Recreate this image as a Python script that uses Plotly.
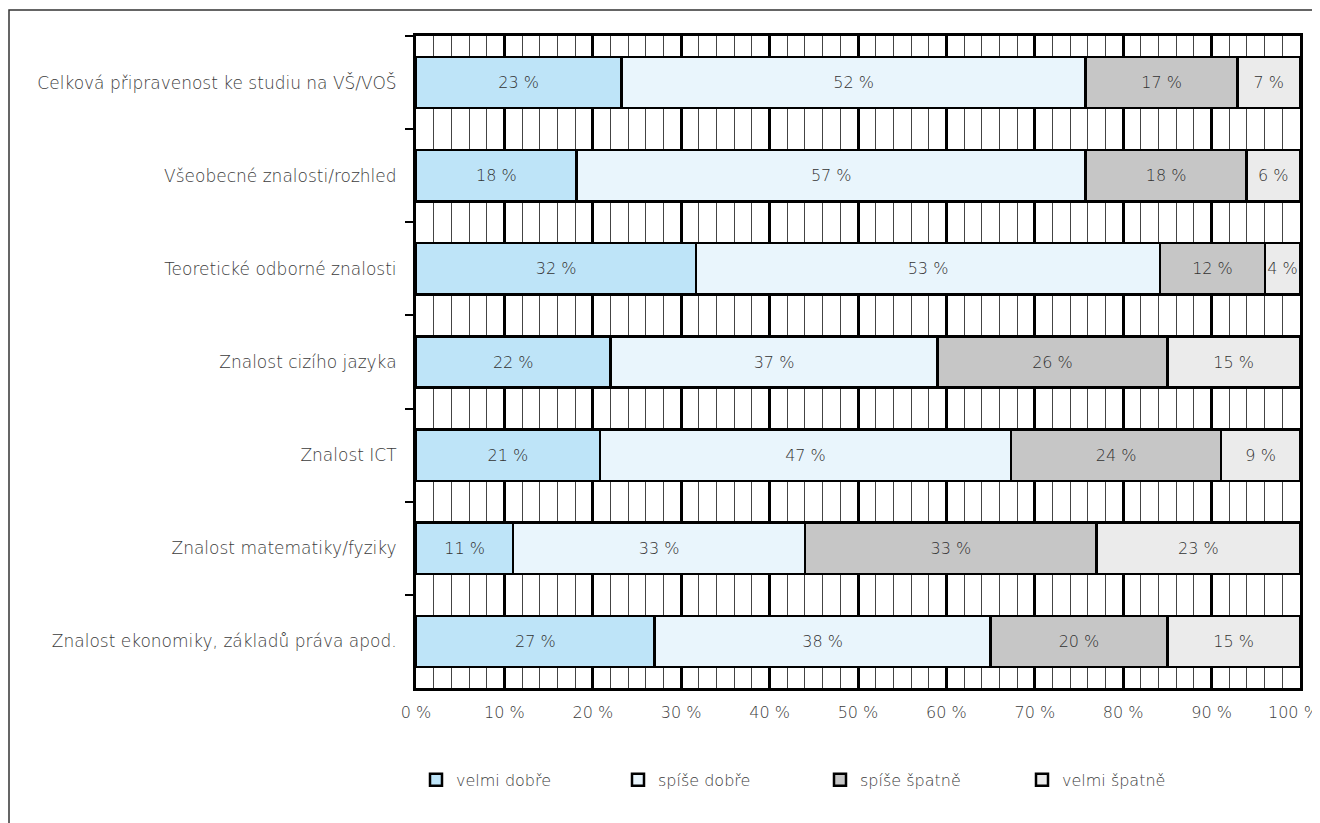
import plotly.graph_objects as go

categories = [
    "Celková připravenost ke studiu na VŠ/VOŠ",
    "Všeobecné znalosti/rozhled",
    "Teoretické odborné znalosti",
    "Znalost cizího jazyka",
    "Znalost ICT",
    "Znalost matematiky/fyziky",
    "Znalost ekonomiky, základů práva apod.",
]
velmi_dobre = [23, 18, 32, 22, 21, 11, 27]
spise_dobre = [52, 57, 53, 37, 47, 33, 38]
spise_spatne = [17, 18, 12, 26, 24, 33, 20]
velmi_spatne = [7, 6, 4, 15, 9, 23, 15]
series_names = ["velmi dobře", "spíše dobře", "spíše špatně", "velmi špatně"]
colors = ["#BEE4F8", "#E9F5FC", "#C6C6C6", "#EBEBEB"]
tick_vals = list(range(0, 91, 10))
tick_text = [f"{v} %" for v in tick_vals]
last_tick = 100
last_tick_text = f"{last_tick} %"

FONT = "DejaVu Sans"
WEIGHT = 200
FS = 16
TXT = "#3c3c3c"
fig = go.Figure()
for name, vals, col in zip(series_names,
                           [velmi_dobre, spise_dobre, spise_spatne, velmi_spatne],
                           colors):
    fig.add_trace(go.Bar(
        y=categories, x=vals, name=name, orientation="h",
        marker=dict(color=col, line=dict(color="black", width=2.5)),
        text=[f"{v} %" for v in vals], texttemplate="%{text}",
        textposition="inside", insidetextanchor="middle", textangle=0,
        constraintext="none", cliponaxis=False,
        textfont=dict(family=FONT, size=FS, color="#333333", weight=WEIGHT),
        hoverinfo="skip",
    ))

fig.update_layout(
    barmode="stack", barnorm="percent", bargap=0.45,
    width=1312, height=815,
    margin=dict(l=408, r=20, t=28, b=135, autoexpand=False),
    paper_bgcolor="white", plot_bgcolor="white",
    font=dict(family=FONT, size=FS, color=TXT, weight=WEIGHT),
    legend=dict(orientation="h", x=0.0, xanchor="left", y=-0.141, yanchor="middle",
                entrywidth=157, entrywidthmode="pixels", itemwidth=30,
                font=dict(family=FONT, size=FS, color=TXT, weight=WEIGHT),
                traceorder="normal"),
    shapes=[dict(type="rect", xref="paper", yref="paper",
                 x0=(9 - 416) / 884, x1=1.05, y0=(688 - 10) / 652, y1=-0.3,
                 line=dict(color="#333333", width=1.5), layer="below")],
    annotations=[dict(text=last_tick_text, x=last_tick, xref="x", y=0, yref="paper",
                      xanchor="center", yanchor="middle", xshift=-6, yshift=-24,
                      showarrow=False,
                      font=dict(family=FONT, size=FS, color=TXT, weight=WEIGHT))],
)
fig.update_xaxes(
    range=[0, 100.001], tickvals=tick_vals, ticktext=tick_text,
    showgrid=True, gridcolor="black", gridwidth=2.5,
    minor=dict(dtick=2, showgrid=True, gridcolor="#444444", gridwidth=1),
    showline=True, linecolor="black", linewidth=3, mirror=True,
    ticks="", tickfont=dict(family=FONT, size=FS, color=TXT, weight=WEIGHT),
    zeroline=False, ticklabelstandoff=8, ticklabeloverflow="allow",
    automargin=False,
)
fig.update_yaxes(
    autorange="reversed", tickson="boundaries", ticks="outside", ticklen=8,
    tickwidth=2, tickcolor="black", showgrid=False,
    showline=True, linecolor="black", linewidth=3, mirror=True,
    tickfont=dict(family=FONT, size=17, color=TXT, weight=WEIGHT),
    ticklabelstandoff=13, automargin=False,
)
fig.write_html("out.html")
